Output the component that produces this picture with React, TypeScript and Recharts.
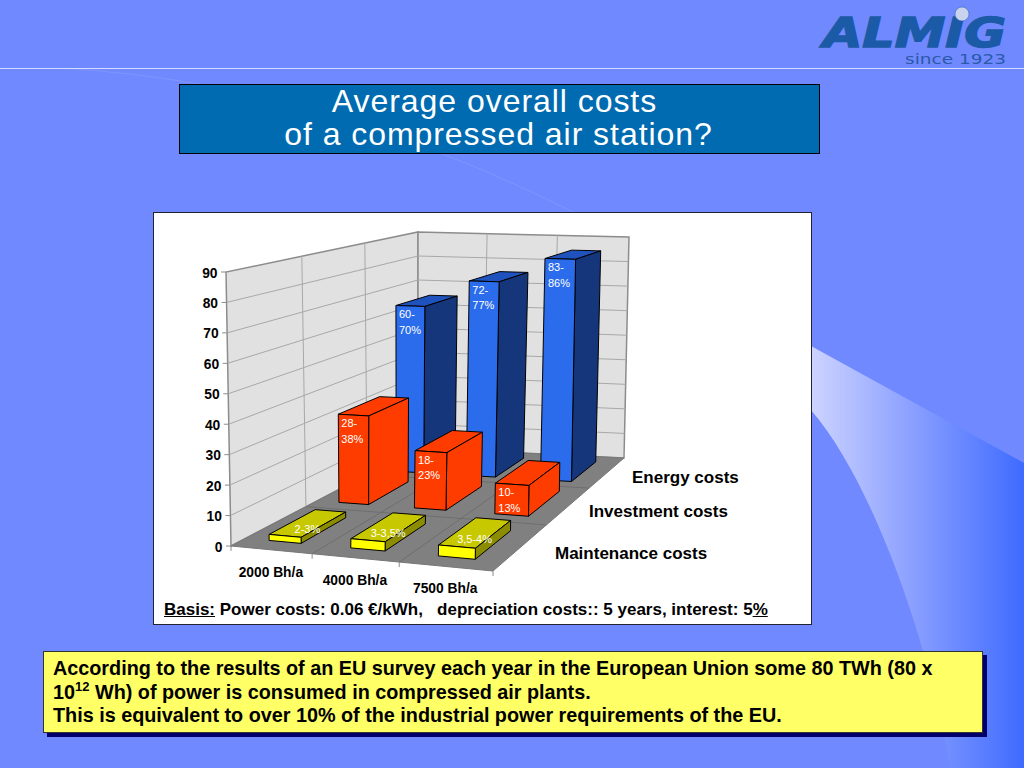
import { BarChart, Bar, XAxis, YAxis } from 'recharts'

const categories = ['2000 Bh/a', '4000 Bh/a', '7500 Bh/a']
const seriesNames = ['Energy costs', 'Investment costs', 'Maintenance costs']
const energyCosts = [65, 75.5, 85]
const investmentCosts = [32, 20.5, 10.8]
const maintenanceCosts = [2, 3, 3.5]
const energyLabels = ['60-\n70%', '72-\n77%', '83-\n86%']
const investmentLabels = ['28-\n38%', '18-\n23%', '10-\n13%']
const maintenanceLabels = ['2-3%', '3-3,5%', '3,5-4%']
const yTicks = [0, 10, 20, 30, 40, 50, 60, 70, 80, 90]

const data = categories.map((name, i) => ({
  name,
  energy: energyCosts[i],
  investment: investmentCosts[i],
  maintenance: maintenanceCosts[i],
  energyLabel: energyLabels[i],
  investmentLabel: investmentLabels[i],
  maintenanceLabel: maintenanceLabels[i],
}))

// plot rectangle, the chart covers the whole slide so chart px = screen px
const PLOT_LEFT = 226
const PLOT_TOP = 272
const PLOT_WIDTH = 270
const PLOT_HEIGHT = 274

type Pt = [number, number]

// unit square -> quad, order (0,0) (1,0) (1,1) (0,1)
function homography([p0, p1, p2, p3]: Pt[]) {
  const dx1 = p1[0] - p2[0]
  const dx2 = p3[0] - p2[0]
  const sx = p0[0] - p1[0] + p2[0] - p3[0]
  const dy1 = p1[1] - p2[1]
  const dy2 = p3[1] - p2[1]
  const sy = p0[1] - p1[1] + p2[1] - p3[1]
  const det = dx1 * dy2 - dx2 * dy1
  const g = (sx * dy2 - dx2 * sy) / det
  const h = (dx1 * sy - sx * dy1) / det
  return (u: number, v: number): Pt => {
    const w = g * u + h * v + 1
    return [
      ((p1[0] - p0[0] + g * p1[0]) * u + (p3[0] - p0[0] + h * p3[0]) * v + p0[0]) / w,
      ((p1[1] - p0[1] + g * p1[1]) * u + (p3[1] - p0[1] + h * p3[1]) * v + p0[1]) / w,
    ]
  }
}

const floorAt = homography([[231, 546], [493, 571], [624, 458], [418, 448]])
const ceilingAt = homography([[226, 272], [497, 280], [629, 237], [418, 232]])

// u along the categories, d into the depth axis, v up the value axis
function project(u: number, d: number, v: number): Pt {
  const a = floorAt(u, d)
  const b = ceilingAt(u, d)
  return [a[0] + (b[0] - a[0]) * v, a[1] + (b[1] - a[1]) * v]
}

const pts = (list: Pt[]) => list.map((p) => p.join(',')).join(' ')

function Box3D(props: any) {
  const { x, y, width, height, d0, d1, colors, text, labelOnTop } = props
  const u0 = (x - PLOT_LEFT) / PLOT_WIDTH
  const u1 = (x + width - PLOT_LEFT) / PLOT_WIDTH
  const v = (PLOT_TOP + PLOT_HEIGHT - y) / PLOT_HEIGHT
  const base = (PLOT_TOP + PLOT_HEIGHT - y - height) / PLOT_HEIGHT
  const fl = project(u0, d0, v)
  const fr = project(u1, d0, v)
  const bl = project(u0, d1, v)
  const br = project(u1, d1, v)
  const fl0 = project(u0, d0, base)
  const fr0 = project(u1, d0, base)
  const br0 = project(u1, d1, base)
  const lines: string[] = String(text).split('\n')
  const common = { stroke: '#000', strokeWidth: 1, strokeLinejoin: 'round' as const }
  return (
    <g>
      <polygon points={pts([fl, fr, br, bl])} fill={colors[1]} {...common} />
      <polygon points={pts([fr, br, br0, fr0])} fill={colors[2]} {...common} />
      <polygon points={pts([fl, fr, fr0, fl0])} fill={colors[0]} {...common} />
      {labelOnTop ? (
        <text
          x={(fl[0] + br[0]) / 2}
          y={(fl[1] + br[1]) / 2 + 10}
          textAnchor="middle"
          fill="#fff"
          fontFamily="Liberation Sans"
          fontSize={11}
        >
          {text}
        </text>
      ) : (
        <text fill="#fff" fontFamily="Liberation Sans" fontSize={11}>
          {lines.map((line, i) => (
            <tspan key={i} x={fl[0] + 3} y={fl[1] + 13 + i * 15.5}>
              {line}
            </tspan>
          ))}
        </text>
      )}
    </g>
  )
}

function Backdrop() {
  const wall = '#e1e1e1'
  const edge = '#8c8c8c'
  const grid = '#a8a8a8'
  const line = (a: Pt, b: Pt, color: string, key: string, w = 1) => (
    <line key={key} x1={a[0]} y1={a[1]} x2={b[0]} y2={b[1]} stroke={color} strokeWidth={w} />
  )
  return (
    <g>
      <polygon
        points={pts([project(0, 0, 0), project(0, 1, 0), project(0, 1, 1), project(0, 0, 1)])}
        fill={wall}
        stroke={edge}
        strokeWidth={1.5}
      />
      <polygon
        points={pts([project(0, 1, 0), project(1, 1, 0), project(1, 1, 1), project(0, 1, 1)])}
        fill={wall}
        stroke={edge}
        strokeWidth={1.5}
      />
      <polygon
        points={pts([project(0, 0, 0), project(1, 0, 0), project(1, 1, 0), project(0, 1, 0)])}
        fill="#808080"
        stroke="#777"
      />
      {yTicks.slice(1, -1).map((t) => (
        <g key={t}>
          {line(project(0, 0, t / 90), project(0, 1, t / 90), grid, 'l')}
          {line(project(0, 1, t / 90), project(1, 1, t / 90), grid, 'b')}
        </g>
      ))}
      {[1 / 3, 2 / 3].map((f) => (
        <g key={f}>
          {line(project(0, f, 0), project(0, f, 1), grid, 'l')}
          {line(project(f, 1, 0), project(f, 1, 1), grid, 'b')}
          {line(project(f, 0, 0), project(f, 1, 0), '#6e6e6e', 'fu')}
          {line(project(0, f, 0), project(1, f, 0), '#6e6e6e', 'fd')}
        </g>
      ))}
      {[0, 1 / 3, 2 / 3, 1].map((f) => {
        const p = project(f, 0, 0)
        return line(p, [p[0], p[1] + 5], edge, `t${f}`)
      })}
      <g fontFamily="Liberation Sans" fontWeight="bold" fontSize={17} fill="#000">
        <text x={632} y={483}>{seriesNames[0]}</text>
        <text x={589} y={517}>{seriesNames[1]}</text>
        <text x={555} y={559}>{seriesNames[2]}</text>
      </g>
    </g>
  )
}

function ValueTick({ y, payload }: any) {
  const p = project(0, 0, payload.value / 90)
  return (
    <g>
      <line x1={p[0] - 5} y1={y} x2={p[0]} y2={y} stroke="#8c8c8c" />
      <text
        x={p[0] - 8.5}
        y={y + 5.5}
        textAnchor="end"
        fontFamily="Liberation Sans"
        fontWeight="bold"
        fontSize={13.8}
        fill="#000"
      >
        {payload.value}
      </text>
    </g>
  )
}

function CategoryTick({ x, payload }: any) {
  const p = project((x - PLOT_LEFT) / PLOT_WIDTH, 0, 0)
  return (
    <text
      x={p[0]}
      y={p[1] + 27}
      textAnchor="middle"
      fontFamily="Liberation Sans"
      fontWeight="bold"
      fontSize={13.8}
      fill="#000"
    >
      {payload.value}
    </text>
  )
}

function Logo() {
  return (
    <g>
      <text
        x={823}
        y={47}
        textLength={183}
        lengthAdjust="spacingAndGlyphs"
        fontFamily="DejaVu Sans"
        fontWeight="bold"
        fontStyle="italic"
        fontSize={40}
        fill="#1b5aa6"
        stroke="#1b5aa6"
        strokeWidth={1.5}
      >
        ALMIG
      </text>
      <circle cx={962} cy={14} r={7} fill="#c9d3ee" stroke="#1b5aa6" strokeWidth={0.5} />
      <text
        x={905}
        y={64}
        textLength={101}
        lengthAdjust="spacingAndGlyphs"
        fontFamily="DejaVu Sans"
        fontSize={14}
        fill="#2a5aa8"
      >
        since 1923
      </text>
    </g>
  )
}

export default function App() {
  const font = '"Liberation Sans", Arial, sans-serif'
  return (
    <div
      style={{
        position: 'absolute',
        left: 0,
        top: 0,
        width: 1024,
        height: 768,
        overflow: 'hidden',
        background: '#7089ff',
        fontFamily: font,
      }}
    >
      <svg width={1024} height={768} style={{ position: 'absolute', left: 0, top: 0 }}>
        <defs>
          <linearGradient id="swoosh" x1="0" x2="1" y1="0" y2="0">
            <stop offset="0" stopColor="#cdd4ff" />
            <stop offset="0.45" stopColor="#8ea2ff" />
            <stop offset="1" stopColor="#3e6bff" />
          </linearGradient>
        </defs>
        <path
          d="M811 346 L1024 463 L1024 768 L950 768 C935 670 880 490 811 410 Z"
          fill="url(#swoosh)"
        />
        <path d="M60 68 Q130 72 205 85" stroke="#7f95ff" strokeWidth={1} fill="none" />
        <path d="M440 153 Q510 180 575 213" stroke="#7f95ff" strokeWidth={1} fill="none" />
        <line x1={0} y1={68.5} x2={1024} y2={68.5} stroke="#d5dcff" strokeWidth={1} />
        <Logo />
      </svg>

      <div
        style={{
          position: 'absolute',
          left: 179,
          top: 84,
          width: 639,
          height: 68,
          background: '#006bb0',
          border: '1px solid #000',
          color: '#fff',
          fontSize: 32,
          letterSpacing: 0.95,
          lineHeight: '33px',
          textAlign: 'center',
        }}
      >
        <span style={{ position: 'relative', left: -5 }}>Average overall costs</span>
        <br />
        <span style={{ position: 'relative', left: -1 }}>of a compressed air station?</span>
      </div>

      <div
        style={{
          position: 'absolute',
          left: 153,
          top: 212,
          width: 657,
          height: 411,
          background: '#fff',
          border: '1px solid #223',
        }}
      />

      <div style={{ position: 'absolute', left: 0, top: 0 }}>
        <BarChart
          width={1024}
          height={768}
          data={data}
          barSize={36}
          barGap={-36}
          margin={{
            top: PLOT_TOP,
            left: PLOT_LEFT - 1,
            right: 1024 - PLOT_LEFT - PLOT_WIDTH,
            bottom: 768 - PLOT_TOP - PLOT_HEIGHT - 1,
          }}
        >
          <Backdrop />
          <XAxis dataKey="name" height={1} axisLine={false} tickLine={false} tick={<CategoryTick />} interval={0} />
          <YAxis
            width={1}
            domain={[0, 90]}
            ticks={yTicks}
            axisLine={false}
            tickLine={false}
            tick={<ValueTick />}
            interval={0}
          />
          <Bar
            dataKey="energy"
            isAnimationActive={false}
            shape={(p: any) => (
              <Box3D {...p} d0={0.72} d1={0.94} colors={['#2b6cec', '#1f52bd', '#15367a']} text={p.payload.energyLabel} />
            )}
          />
          <Bar
            dataKey="investment"
            isAnimationActive={false}
            shape={(p: any) => (
              <Box3D {...p} d0={0.39} d1={0.62} colors={['#ff3c00', '#ff3c00', '#ff3c00']} text={p.payload.investmentLabel} />
            )}
          />
          <Bar
            dataKey="maintenance"
            isAnimationActive={false}
            shape={(p: any) => (
              <Box3D
                {...p}
                d0={0.06}
                d1={0.27}
                colors={['#ffff00', '#c8c800', '#8c8c00']}
                text={p.payload.maintenanceLabel}
                labelOnTop
              />
            )}
          />
        </BarChart>
      </div>

      <div
        style={{
          position: 'absolute',
          left: 164,
          top: 601,
          fontSize: 17,
          fontWeight: 'bold',
          lineHeight: '18px',
          whiteSpace: 'pre',
          color: '#000',
        }}
      >
        <u>Basis:</u>
        {' Power costs: 0.06 €/kWh,   depreciation costs:: 5 years, interest: 5'}
        <u>%</u>
      </div>

      <div
        style={{
          position: 'absolute',
          left: 43,
          top: 651,
          width: 938,
          height: 75,
          background: '#ffff66',
          border: '1px solid #333',
          boxShadow: '4px 4px 0 #00006a',
          color: '#000',
          fontSize: 19.8,
          fontWeight: 'bold',
          lineHeight: '23.5px',
          paddingTop: 5,
          boxSizing: 'content-box',
        }}
      >
        <div style={{ marginLeft: 9, whiteSpace: 'nowrap', marginTop: 0 }}>
          According to the results of an EU survey each year in the European Union some 80 TWh (80 x
          <br />
          10<sup style={{ fontSize: 13, lineHeight: 0 }}>12</sup> Wh) of power is consumed in compressed air plants.
          <br />
          This is equivalent to over 10% of the industrial power requirements of the EU.
        </div>
      </div>
    </div>
  )
}
